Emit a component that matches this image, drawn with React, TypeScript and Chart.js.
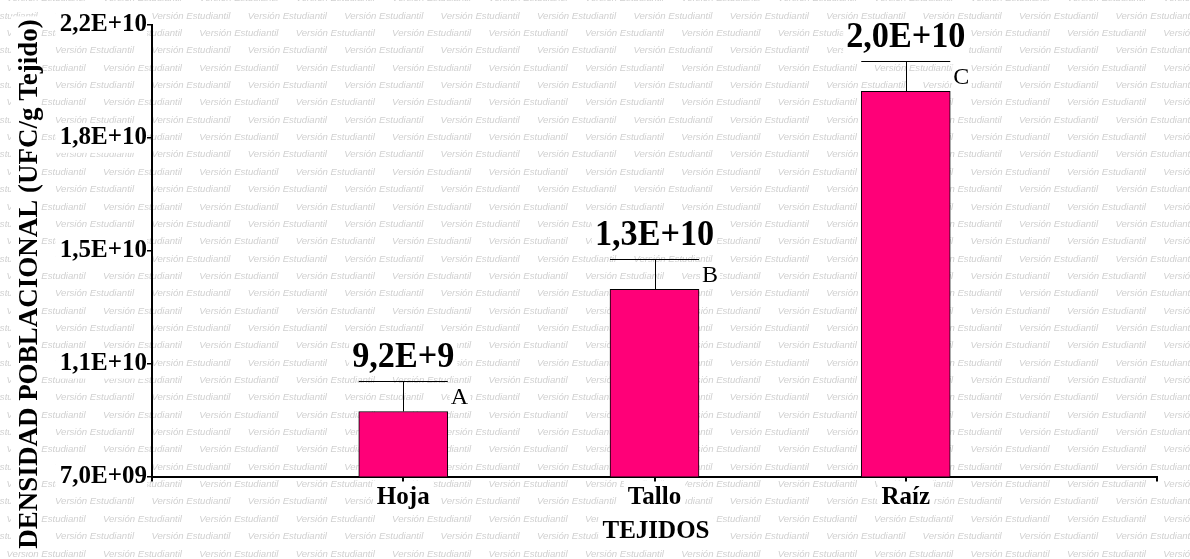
import React, { useEffect, useRef } from 'react';
import { Chart, registerables } from 'chart.js';

Chart.register(...registerables);

// ---- data ----
const categories = ['Hoja', 'Tallo', 'Raíz'];
const means = [9.16e9, 1.322e10, 1.98e10];
const errors = [1.01e9, 1.0e9, 1.0e9];
const letters = ['A', 'B', 'C'];
const yTickValues = [7.0e9, 1.075e10, 1.45e10, 1.825e10, 2.2e10];
const yTickLabels = ['7,0E+09', '1,1E+10', '1,5E+10', '1,8E+10', '2,2E+10'];
const yMin = 7.0e9;
const yMax = 2.2e10;
const yTitle = 'DENSIDAD POBLACIONAL (UFC/g Tejido)';
const xTitle = 'TEJIDOS';
const watermarkText = 'Versión Estudiantil';

const SERIF = '"Liberation Serif", "Times New Roman", serif';
const SANS = '"Liberation Sans", Arial, sans-serif';
const BAR_COLOR = '#FF0078';

const fmt = (v: number) => v.toExponential(1).replace('.', ',').replace('e', 'E');

const backgroundPlugin = {
  id: 'bgWatermark',
  beforeDraw(chart: any) {
    const ctx = chart.ctx as CanvasRenderingContext2D;
    const W = chart.width;
    const H = chart.height;
    ctx.save();
    ctx.fillStyle = '#ffffff';
    ctx.fillRect(0, 0, W, H);

    // watermark
    ctx.font = `italic 9.6px ${SANS}`;
    ctx.fillStyle = '#d0d0d0';
    ctx.textBaseline = 'middle';
    ctx.textAlign = 'left';
    const period = 96.4;
    const rowH = 17.35;
    for (let r = -1; 16 + r * rowH < H + rowH; r++) {
      const y = 16 + r * rowH;
      const x0 = (r % 2 === 0 ? 55 : 6.5) - period * 2;
      for (let x = x0; x < W + period; x += period) ctx.fillText(watermarkText, x, y);
    }

    // white boxes behind axis texts
    ctx.fillStyle = '#ffffff';
    const ys = chart.scales.y;
    const xs = chart.scales.x;
    const area = chart.chartArea;
    ctx.font = `bold 25px ${SERIF}`;
    ys.ticks.forEach((_t: any, i: number) => {
      const py = ys.getPixelForTick(i);
      const w = ctx.measureText(yTickLabels[i] || '').width;
      ctx.fillRect(ys.right - 5 - w - 4, py - 15, w + 4, 30);
    });
    categories.forEach((c, i) => {
      const px = xs.getPixelForTick(i + 1);
      const w = ctx.measureText(c).width;
      ctx.fillRect(px - w / 2 - 4, xs.top + 4, w + 8, 34);
    });

    // y title
    ctx.font = `bold 27px ${SERIF}`;
    const yLen = ctx.measureText(yTitle).width;
    const yc = 284;
    const yb = 37;
    ctx.fillRect(11, yc - yLen / 2 - 3, 29, yLen + 6);
    ctx.save();
    ctx.translate(yb, yc);
    ctx.rotate(-Math.PI / 2);
    ctx.fillStyle = '#000';
    ctx.textAlign = 'center';
    ctx.textBaseline = 'alphabetic';
    ctx.fillText(yTitle, 0, 0);
    ctx.restore();

    // x title
    ctx.font = `bold 25px ${SERIF}`;
    const xw = ctx.measureText(xTitle).width;
    const xc = (area.left + area.right) / 2 + 1.5;
    const xbase = 538;
    ctx.fillStyle = '#ffffff';
    ctx.fillRect(xc - xw / 2 - 4, xbase - 24, xw + 8, 31);
    ctx.fillStyle = '#000';
    ctx.textAlign = 'center';
    ctx.textBaseline = 'alphabetic';
    ctx.fillText(xTitle, xc, xbase);
    ctx.restore();
  },
};

const errorPlugin = {
  id: 'errorBarsLabels',
  afterDatasetsDraw(chart: any) {
    const ctx = chart.ctx as CanvasRenderingContext2D;
    const meta = chart.getDatasetMeta(0);
    const ys = chart.scales.y;
    ctx.save();
    categories.forEach((_c, i) => {
      const bar = meta.data[i + 1];
      if (!bar) return;
      const { x, width } = bar.getProps(['x', 'width'], true);
      const yTop = ys.getPixelForValue(means[i]);
      const yErr = ys.getPixelForValue(means[i] + errors[i]);
      const cx = Math.round(x) + 0.5;
      const ce = Math.round(yErr) + 0.5;
      ctx.strokeStyle = '#000';
      ctx.lineWidth = 1;
      ctx.beginPath();
      ctx.moveTo(cx, yTop);
      ctx.lineTo(cx, ce);
      ctx.moveTo(x - width / 2, ce);
      ctx.lineTo(x + width / 2, ce);
      ctx.stroke();

      // value label
      const label = fmt(means[i]);
      ctx.font = `bold 36px ${SERIF}`;
      const sx = 0.95;
      const lw = ctx.measureText(label).width * sx;
      const base = yErr - 14;
      ctx.fillStyle = '#ffffff';
      ctx.fillRect(x - lw / 2 - 3, base - 28, lw + 6, 36);
      ctx.save();
      ctx.translate(x, base);
      ctx.scale(sx, 1);
      ctx.fillStyle = '#000';
      ctx.textAlign = 'center';
      ctx.textBaseline = 'alphabetic';
      ctx.fillText(label, 0, 0);
      ctx.restore();

      // letter
      ctx.font = `24px ${SERIF}`;
      const lx = x + width / 2 + 3;
      const lb = yErr + 22.5;
      const ltw = ctx.measureText(letters[i]).width;
      ctx.fillStyle = '#ffffff';
      ctx.fillRect(lx - 1, lb - 19, ltw + 3, 24);
      ctx.fillStyle = '#000';
      ctx.textAlign = 'left';
      ctx.fillText(letters[i], lx, lb);
    });
    ctx.restore();
  },
};

export default function App() {
  const canvasRef = useRef<HTMLCanvasElement | null>(null);

  useEffect(() => {
    document.body.style.margin = '0';
    const canvas = canvasRef.current;
    if (!canvas) return;
    const labels = ['', ...categories, ''];
    const data = [null, ...means, null];
    const chart = new Chart(canvas, {
      type: 'bar',
      data: {
        labels,
        datasets: [
          {
            data: data as any,
            backgroundColor: BAR_COLOR,
            borderColor: '#000',
            borderWidth: 1,
            barThickness: 89,
          },
        ],
      },
      options: {
        animation: false,
        responsive: true,
        maintainAspectRatio: false,
        layout: { padding: { top: 25, right: 33, left: 0, bottom: 0 } },
        plugins: {
          legend: { display: false },
          tooltip: { enabled: false },
        },
        scales: {
          x: {
            type: 'category',
            offset: false,
            grid: {
              display: true,
              drawOnChartArea: false,
              drawTicks: true,
              tickLength: 5,
              color: '#000',
              lineWidth: 2,
              offset: false,
            },
            border: { display: true, color: '#000', width: 2 },
            ticks: {
              color: '#000',
              font: { family: SERIF, size: 25, weight: 'bold' },
              padding: 1,
              maxRotation: 0,
              autoSkip: false,
            },
            afterFit: (s: any) => {
              s.height = 82.5;
            },
          },
          y: {
            type: 'linear',
            min: yMin,
            max: yMax,
            afterBuildTicks: (s: any) => {
              s.ticks = yTickValues.map((v) => ({ value: v }));
            },
            grid: {
              display: true,
              drawOnChartArea: false,
              drawTicks: true,
              tickLength: 5,
              color: '#000',
              lineWidth: 1.5,
            },
            border: { display: true, color: '#000', width: 2 },
            ticks: {
              color: '#000',
              font: { family: SERIF, size: 25, weight: 'bold' },
              padding: 0,
              callback: (_v: any, i: number) => yTickLabels[i],
            },
            afterFit: (s: any) => {
              s.width = 152;
            },
          },
        },
      },
      plugins: [backgroundPlugin, errorPlugin],
    });
    return () => chart.destroy();
  }, []);

  return (
    <div style={{ width: '1190px', height: '559px', position: 'relative' }}>
      <canvas ref={canvasRef} />
    </div>
  );
}
